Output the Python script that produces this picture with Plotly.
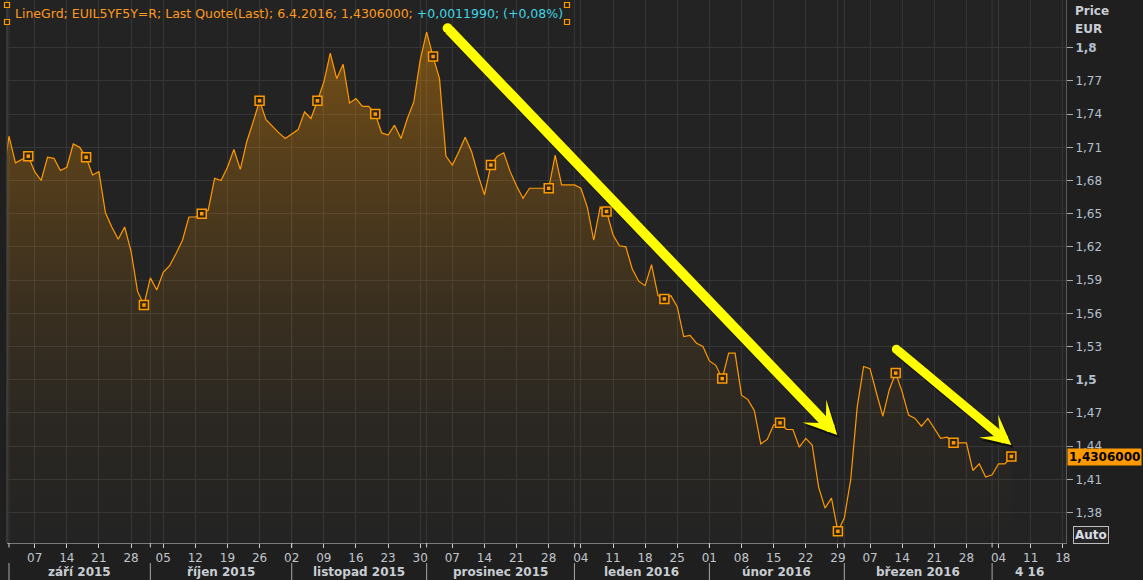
import numpy as np
import pandas as pd
import plotly.graph_objects as go

# ---------------- data ----------------
start_date = "2015-08-31"
end_date = "2016-04-06"
values = [
    1.680, 1.720, 1.696, 1.699, 1.702, 1.688, 1.680, 1.701, 1.700, 1.689,
    1.692, 1.713, 1.710, 1.701, 1.685, 1.688, 1.651, 1.638, 1.627, 1.638,
    1.616, 1.580, 1.5675, 1.592, 1.581, 1.597, 1.603, 1.614, 1.626, 1.647,
    1.647, 1.650, 1.653, 1.682, 1.680, 1.692, 1.708, 1.690, 1.715, 1.733,
    1.752, 1.735, 1.729, 1.723, 1.718, 1.722, 1.726, 1.742, 1.736, 1.752,
    1.769, 1.795, 1.772, 1.785, 1.750, 1.754, 1.747, 1.747, 1.740, 1.723,
    1.721, 1.730, 1.718, 1.736, 1.751, 1.789, 1.814, 1.792, 1.772, 1.702,
    1.694, 1.706, 1.719, 1.706, 1.685, 1.667, 1.694, 1.702, 1.705, 1.688,
    1.675, 1.664, 1.673, 1.673, 1.673, 1.673, 1.703, 1.676, 1.676, 1.676,
    1.673, 1.656, 1.626, 1.656, 1.652, 1.631, 1.621, 1.620, 1.600, 1.589,
    1.585, 1.604, 1.576, 1.573, 1.576, 1.566, 1.539, 1.540, 1.533, 1.530,
    1.517, 1.513, 1.501, 1.524, 1.524, 1.486, 1.482, 1.472, 1.442, 1.446,
    1.459, 1.461, 1.455, 1.455, 1.439, 1.447, 1.441, 1.403, 1.384, 1.393,
    1.363, 1.375, 1.410, 1.475, 1.512, 1.510, 1.488, 1.467, 1.491, 1.506,
    1.489, 1.468, 1.465, 1.458, 1.465, 1.456, 1.447, 1.448, 1.443, 1.443,
    1.443, 1.418, 1.424, 1.412, 1.414, 1.424, 1.424, 1.4306,
]
dates = pd.bdate_range(start_date, end_date)

y_ticks = [1.38, 1.41, 1.44, 1.47, 1.50, 1.53, 1.56, 1.59, 1.62, 1.65, 1.68, 1.71, 1.74, 1.77, 1.80]
y_tick_labels = ["1,38", "1,41", "1,44", "1,47", "<b>1,5</b>", "1,53", "1,56", "1,59", "1,62",
                 "1,65", "1,68", "1,71", "1,74", "1,77", "<b>1,8</b>"]
week_ticks = pd.date_range("2015-09-07", "2016-04-18", freq="7D")
week_labels = [d.strftime("%d") for d in week_ticks]
month_starts = ["2015-09-01", "2015-10-01", "2015-11-02", "2015-12-01",
                "2016-01-01", "2016-02-01", "2016-03-01", "2016-04-01"]
month_labels = ["září 2015", "říjen 2015", "listopad 2015", "prosinec 2015",
                "leden 2016", "únor 2016", "březen 2016", "4 16"]
legend_main = "LineGrd; EUIL5YF5Y=R; Last Quote(Last); 6.4.2016; 1,4306000;\u00a0"
legend_change = "+0,0011990; (+0,08%)"
last_label = "1,4306000"

# ---------------- helpers ----------------
W, H = 1143, 580
PL, PR, PT, PB = 7, 1066, 0, 543
cal = pd.bdate_range(start_date, "2016-06-30")


def pos(f):
    i = int(np.floor(f))
    return cal[i] + pd.Timedelta(days=float(f - i))


def idx(d):
    return cal.get_loc(pd.Timestamp(d))


def px_x(p):
    return (p - PL) / (PR - PL)


def px_y(p):
    return (PB - p) / (PB - PT)


x_left, x_right = 0.69, 165.5
ORANGE = "#ff9900"
GRID = "#363636"
TXT = "#bcc4cc"
FONT = "DejaVu Sans"

fig = go.Figure()

fig.add_trace(go.Scatter(
    x=dates, y=values, mode="lines",
    line=dict(color=ORANGE, width=1.2),
    fill="tozeroy",
    fillgradient=dict(
        type="vertical",
        colorscale=[[0, "rgba(255,153,0,0)"], [0.25, "rgba(255,153,0,0.035)"],
                    [0.5, "rgba(255,153,0,0.11)"], [0.75, "rgba(255,153,0,0.22)"],
                    [1, "rgba(255,153,0,0.36)"]],
        start=1.35, stop=1.80),
    hoverinfo="skip", showlegend=False,
))

mk = list(range(len(values) - 1, 0, -9))
fig.add_trace(go.Scatter(
    x=[dates[i] for i in mk], y=[values[i] for i in mk], mode="markers",
    marker=dict(symbol="square", size=9, color="#2e2412", line=dict(color=ORANGE, width=1.5)),
    hoverinfo="skip", showlegend=False,
))
fig.add_trace(go.Scatter(
    x=[dates[i] for i in mk], y=[values[i] for i in mk], mode="markers",
    marker=dict(symbol="square", size=3.5, color=ORANGE, line=dict(width=0)),
    hoverinfo="skip", showlegend=False,
))

shapes = []
annotations = []

# month boundary grid lines, ticks and separators
for m in month_starts:
    shapes.append(dict(type="line", xref="x", yref="paper", x0=m, x1=m, y0=0, y1=1,
                       line=dict(color=GRID, width=1), layer="below"))
    shapes.append(dict(type="line", xref="x", yref="paper", x0=m, x1=m,
                       y0=px_y(543), y1=px_y(547.5), line=dict(color="#d0d0d0", width=1)))
    shapes.append(dict(type="line", xref="x", yref="paper", x0=m, x1=m,
                       y0=px_y(563), y1=px_y(580), line=dict(color="#a8a8a8", width=1)))

# month labels
bounds = [idx(m) for m in month_starts] + [x_right]
for k, lab in enumerate(month_labels):
    mid = (bounds[k] + bounds[k + 1]) / 2
    annotations.append(dict(x=pos(mid), xref="x", y=px_y(572), yref="paper", text="<b>%s</b>" % lab,
                            showarrow=False, xanchor="center", yanchor="middle",
                            font=dict(family=FONT, size=12, color="#c8cdd3")))

# left border line
shapes.append(dict(type="line", xref="paper", yref="paper", x0=0, x1=0, y0=0, y1=1,
                   line=dict(color="#505050", width=1)))

# legend text + handles
annotations.append(dict(
    x=px_x(13), y=px_y(13), xref="paper", yref="paper", xanchor="left", yanchor="middle",
    showarrow=False,
    text='<span style="color:#ff9a1e">%s</span><span style="color:#3fd6e6">%s</span>' % (legend_main, legend_change),
    font=dict(family=FONT, size=12.5, color="#ff9a1e")))
for hx, hy in [(7, 5), (567, 5), (7, 22), (567, 22)]:
    shapes.append(dict(type="rect", xref="paper", yref="paper",
                       x0=px_x(hx - 2.5), x1=px_x(hx + 2.5), y0=px_y(hy + 2.5), y1=px_y(hy - 2.5),
                       fillcolor="#2e2412", line=dict(color=ORANGE, width=1.2)))

# axis title
annotations.append(dict(x=px_x(1073), y=px_y(11), xref="paper", yref="paper", xanchor="left",
                        yanchor="middle", showarrow=False, text="<b>Price</b>",
                        font=dict(family=FONT, size=12, color="#c8cdd3")))
annotations.append(dict(x=px_x(1073), y=px_y(29), xref="paper", yref="paper", xanchor="left",
                        yanchor="middle", showarrow=False, text="<b>EUR</b>",
                        font=dict(family=FONT, size=12, color="#c8cdd3")))

# last price label
annotations.append(dict(x=1, xref="paper", xshift=1, y=values[-1], yref="y", xanchor="left",
                        yanchor="middle", showarrow=False, text="<b>%s</b>" % last_label,
                        bgcolor=ORANGE, borderpad=1,
                        font=dict(family=FONT, size=12, color="#000000")))
# Auto box
annotations.append(dict(x=px_x(1091), y=px_y(535), xref="paper", yref="paper", xanchor="center",
                        yanchor="middle", showarrow=False, text="<b>Auto</b>",
                        bordercolor="#bdbdbd", borderwidth=1, borderpad=1, bgcolor="#262626",
                        font=dict(family=FONT, size=12, color="#d8dde4")))

# yellow arrows (tail index/value -> head index/value)
arrows = [((69.27, 1.8175), (129.9, 1.450), 10), ((139.1, 1.5275), (157.0, 1.441), 9)]
for (ti, tv), (hi, hv), wdt in arrows:
    for col, sx, sy in [("rgba(0,0,0,0.55)", 2, -3), ("#ffff00", 0, 0)]:
        annotations.append(dict(x=pos(hi), y=hv, ax=pos(ti), ay=tv, xref="x", yref="y",
                                axref="x", ayref="y", text="", showarrow=True,
                                arrowhead=3, arrowsize=0.55, arrowwidth=wdt, arrowcolor=col,
                                xshift=sx, yshift=sy))
    shapes.append(dict(type="circle", xref="x", yref="y", xsizemode="pixel", ysizemode="pixel",
                       xanchor=pos(ti), yanchor=tv, x0=-wdt / 2, x1=wdt / 2, y0=-wdt / 2, y1=wdt / 2,
                       fillcolor="#ffff00", line=dict(width=0)))

fig.update_layout(
    width=W, height=H,
    margin=dict(l=PL, r=W - PR, t=PT, b=H - PB),
    paper_bgcolor="#1f1f1f", plot_bgcolor="#232323",
    separators=", ",
    font=dict(family=FONT, size=12, color=TXT),
    showlegend=False, hovermode=False,
    shapes=shapes, annotations=annotations,
    xaxis=dict(
        type="date", range=[pos(x_left), pos(x_right)],
        rangebreaks=[dict(bounds=["sat", "mon"])],
        tickvals=week_ticks, ticktext=week_labels,
        ticks="outside", ticklen=4, tickcolor="#d0d0d0", tickwidth=1,
        showgrid=True, gridcolor=GRID, gridwidth=1,
        showline=True, linecolor="#7a7a7a", linewidth=1,
        tickfont=dict(family=FONT, size=12, color="#c0c6cc"),
        zeroline=False, fixedrange=True,
    ),
    yaxis=dict(
        side="right", range=[1.35245, 1.8431],
        tickvals=y_ticks, ticktext=y_tick_labels,
        ticks="outside", ticklen=6, tickcolor="#a0a8b0",
        showgrid=True, gridcolor=GRID, gridwidth=1,
        showline=True, linecolor="#5a5a5a", linewidth=1,
        tickfont=dict(family=FONT, size=12, color="#b4bfcc"),
        zeroline=False, fixedrange=True,
    ),
)

fig.write_html("out.html",
               config={"displayModeBar": False, "staticPlot": True},
               post_script="document.body.style.margin='0px';document.body.style.background='#1f1f1f';")
